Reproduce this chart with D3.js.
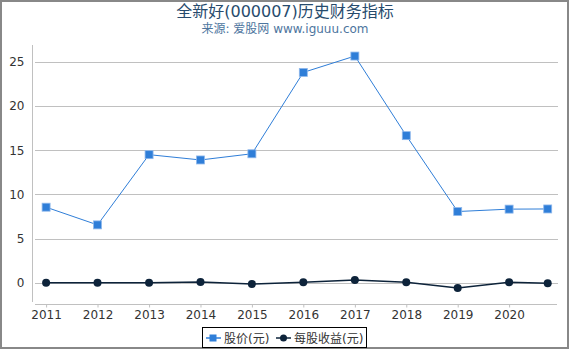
<!DOCTYPE html>
<html>
<head>
<meta charset="utf-8">
<script src="https://cdn.jsdelivr.net/npm/d3@7"></script>
<style>
  body { margin: 0; background: #fff; }
  svg { display: block; font-family: "DejaVu Sans", "Noto Sans CJK SC", sans-serif; }
</style>
</head>
<body>
<svg width="570" height="350"></svg>
<script>
const svg = d3.select("svg");

// data
const dates = ["2011-01-01", "2012-01-01", "2013-01-01", "2014-01-01", "2015-01-01",
  "2016-01-01", "2017-01-01", "2018-01-01", "2019-01-01", "2020-01-01", "2020-10-01"];
const price = [8.56, 6.56, 14.5, 13.9, 14.6, 23.8, 25.65, 16.65, 8.07, 8.34, 8.36];
const eps = [0.03, 0.02, 0.03, 0.1, -0.12, 0.07, 0.34, 0.07, -0.58, 0.07, -0.03];
const yTicks = [0, 5, 10, 15, 20, 25];
const xTickYears = [2011, 2012, 2013, 2014, 2015, 2016, 2017, 2018, 2019, 2020];

const parse = d3.timeParse("%Y-%m-%d");
const pts = dates.map((d, i) => ({ date: parse(d), price: price[i], eps: eps[i] }));

const x = d3.scaleTime()
  .domain([new Date(2010, 8, 30), new Date(2020, 11, 6)])
  .range([33, 557]);
const y = d3.scaleLinear().domain([-2.5, 26.9]).range([305, 45]);

// frame
svg.append("rect")
  .attr("x", 1).attr("y", 1).attr("width", 567).attr("height", 347)
  .attr("fill", "none").attr("stroke", "#888").attr("stroke-width", 2);

// title
svg.append("text")
  .attr("x", 285).attr("y", 17).attr("text-anchor", "middle")
  .attr("font-size", 16).attr("fill", "#274b6d")
  .text("全新好(000007)历史财务指标");
svg.append("text")
  .attr("x", 285).attr("y", 33).attr("text-anchor", "middle")
  .attr("font-size", 12).attr("fill", "#4d759e")
  .text("来源: 爱股网 www.iguuu.com");

// grid
svg.append("g").selectAll("line")
  .data(yTicks)
  .join("line")
  .attr("x1", 35).attr("x2", 558)
  .attr("y1", d => Math.round(y(d)) + 0.5).attr("y2", d => Math.round(y(d)) + 0.5)
  .attr("stroke", "#c0c0c0").attr("stroke-width", 1);

// y axis
const yAxis = svg.append("g")
  .attr("transform", "translate(32.5,0)")
  .call(d3.axisLeft(y).tickValues(yTicks).tickSize(0).tickPadding(8));
yAxis.select(".domain").attr("stroke", "#c0c0c0").attr("d", "M0,45V302");
yAxis.selectAll("text").attr("font-size", 12).attr("fill", "#333").attr("font-family", "DejaVu Sans");

// x axis
const xAxis = svg.append("g")
  .attr("transform", "translate(0,304.5)")
  .call(d3.axisBottom(x)
    .tickValues(xTickYears.map(yr => new Date(yr, 0, 1)))
    .tickFormat(d3.timeFormat("%Y"))
    .tickSize(3).tickPadding(3));
xAxis.select(".domain").attr("stroke", "#c0c0c0").attr("d", "M35,0H557");
xAxis.selectAll(".tick line").attr("stroke", "#c0c0c0");
xAxis.selectAll("text").attr("font-size", 12).attr("fill", "#333").attr("font-family", "DejaVu Sans");

// price series
const priceLine = d3.line().x(d => x(d.date)).y(d => y(d.price));
svg.append("path").datum(pts)
  .attr("d", priceLine).attr("fill", "none")
  .attr("stroke", "#2f7ed8").attr("stroke-width", 1);
svg.append("g").selectAll("rect")
  .data(pts)
  .join("rect")
  .attr("x", d => x(d.date) - 4).attr("y", d => y(d.price) - 4)
  .attr("width", 8).attr("height", 8)
  .attr("fill", "#2f7ed8").attr("stroke", "#8fb8ec").attr("stroke-width", 0.8);

// eps series
const epsLine = d3.line().x(d => x(d.date)).y(d => y(d.eps));
svg.append("path").datum(pts)
  .attr("d", epsLine).attr("fill", "none")
  .attr("stroke", "#0d233a").attr("stroke-width", 1.5);
svg.append("g").selectAll("circle")
  .data(pts)
  .join("circle")
  .attr("cx", d => x(d.date)).attr("cy", d => y(d.eps))
  .attr("r", 4).attr("fill", "#0d233a");

// legend
const lg = svg.append("g");
lg.append("rect")
  .attr("x", 202.5).attr("y", 327.5).attr("width", 164).attr("height", 20)
  .attr("fill", "#fff").attr("stroke", "#000").attr("stroke-width", 1);
lg.append("line").attr("x1", 206).attr("x2", 221).attr("y1", 338).attr("y2", 338)
  .attr("stroke", "#2f7ed8").attr("stroke-width", 1.5);
lg.append("rect").attr("x", 209.5).attr("y", 334.5).attr("width", 7).attr("height", 7)
  .attr("fill", "#2f7ed8");
lg.append("text").attr("x", 224).attr("y", 342.5)
  .attr("font-size", 12).attr("fill", "#333").text("股价(元)");
lg.append("line").attr("x1", 276).attr("x2", 291).attr("y1", 338).attr("y2", 338)
  .attr("stroke", "#0d233a").attr("stroke-width", 1.5);
lg.append("circle").attr("cx", 283.5).attr("cy", 338).attr("r", 3.5)
  .attr("fill", "#0d233a");
lg.append("text").attr("x", 294).attr("y", 342.5)
  .attr("font-size", 12).attr("fill", "#333").text("每股收益(元)");
</script>
</body>
</html>
